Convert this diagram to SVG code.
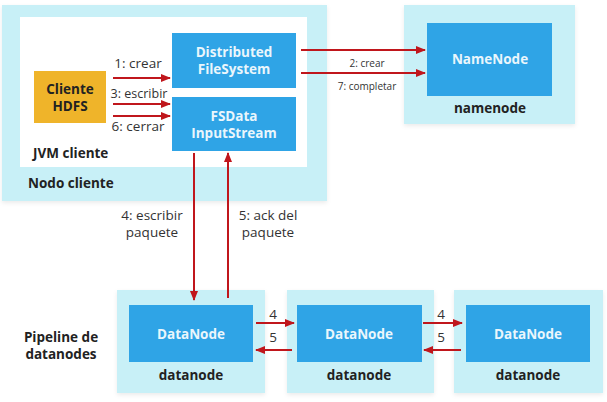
<svg xmlns="http://www.w3.org/2000/svg" width="607" height="402" viewBox="0 0 607 402">
<style>
.outer{fill:#c8f0f7;filter:url(#sh)}
.inner{fill:#2fa4e6}
.wt{font-family:"Open Sans","Noto Sans",sans-serif;font-weight:bold;font-size:13.5px;fill:#eaf6fc;text-anchor:middle}
.bt{font-family:"Open Sans","Noto Sans",sans-serif;font-weight:bold;font-size:13.5px;fill:#222}
.lt{font-family:"Open Sans","Noto Sans",sans-serif;font-size:13.5px;fill:#333;text-anchor:middle}
.st{font-family:"Open Sans","Noto Sans",sans-serif;font-size:10px;fill:#333;text-anchor:middle}
.ln{stroke:#c0161c;stroke-width:2;fill:none;marker-end:url(#ah)}
</style>
<defs>
<marker id="ah" viewBox="0 0 10 10" refX="9" refY="5" markerWidth="5" markerHeight="5" orient="auto" markerUnits="strokeWidth">
<path d="M0,1 L10,5 L0,9 z" fill="#c0161c"/>
</marker>
<filter id="sh" x="-5%" y="-5%" width="110%" height="115%">
<feDropShadow dx="0" dy="2" stdDeviation="2" flood-color="#000" flood-opacity="0.08"/>
</filter>
</defs>
<rect width="607" height="402" fill="#ffffff"/>
<g id="nodo-cliente">
<rect class="outer" x="2" y="5" width="325" height="196"/>
<text class="bt" x="28" y="188">Nodo cliente</text>
</g>
<g id="jvm-cliente">
<rect x="20" y="17" width="287" height="150" fill="#ffffff"/>
<text class="bt" x="33" y="158">JVM cliente</text>
</g>
<g id="cliente-hdfs">
<rect x="34" y="71" width="72" height="52" fill="#efb42a"/>
<text class="bt" x="70" y="93.5" text-anchor="middle">Cliente</text>
<text class="bt" x="70" y="110.5" text-anchor="middle">HDFS</text>
</g>
<g id="distributed-fs">
<rect class="inner" x="172" y="33" width="124" height="55"/>
<text class="wt" x="234" y="56.5">Distributed</text>
<text class="wt" x="234" y="73.5">FileSystem</text>
</g>
<g id="fsdata">
<rect class="inner" x="172" y="97" width="124" height="54"/>
<text class="wt" x="234" y="120.5">FSData</text>
<text class="wt" x="234" y="137.5">InputStream</text>
</g>
<g id="namenode">
<rect class="outer" x="404" y="5" width="171" height="119"/>
<rect class="inner" x="427" y="23" width="125" height="73"/>
<text class="wt" x="490" y="64">NameNode</text>
<text class="bt" x="490" y="113" text-anchor="middle">namenode</text>
</g>
<g id="datanode1">
<rect class="outer" x="117" y="290" width="148" height="103"/>
<rect class="inner" x="129" y="305" width="124" height="57"/>
<text class="wt" x="191" y="339">DataNode</text>
<text class="bt" x="191" y="380" text-anchor="middle">datanode</text>
</g>
<g id="datanode2">
<rect class="outer" x="287" y="290" width="147" height="103"/>
<rect class="inner" x="297" y="305" width="125" height="57"/>
<text class="wt" x="359" y="339">DataNode</text>
<text class="bt" x="359" y="380" text-anchor="middle">datanode</text>
</g>
<g id="datanode3">
<rect class="outer" x="454" y="290" width="149" height="103"/>
<rect class="inner" x="466" y="305" width="124" height="57"/>
<text class="wt" x="528" y="339">DataNode</text>
<text class="bt" x="528" y="380" text-anchor="middle">datanode</text>
</g>
<g id="pipeline-label">
<text class="bt" x="61" y="341.5" text-anchor="middle">Pipeline de</text>
<text class="bt" x="61" y="358.5" text-anchor="middle">datanodes</text>
</g>
<g id="connectors">
<line class="ln" x1="113" y1="78" x2="170" y2="78"/>
<line class="ln" x1="113" y1="104" x2="170" y2="104"/>
<line class="ln" x1="113" y1="116" x2="170" y2="116"/>
<line class="ln" x1="301" y1="50" x2="425" y2="50"/>
<line class="ln" x1="301" y1="73" x2="425" y2="73"/>
<line class="ln" x1="194" y1="153" x2="194" y2="300"/>
<line class="ln" x1="228" y1="298" x2="228" y2="153"/>
<line class="ln" x1="256" y1="323" x2="294" y2="323"/>
<line class="ln" x1="292" y1="350" x2="256" y2="350"/>
<line class="ln" x1="423" y1="323" x2="462" y2="323"/>
<line class="ln" x1="461" y1="350" x2="424" y2="350"/>
<text class="lt" x="138" y="68">1: crear</text>
<text class="lt" x="139" y="98" style="font-size:12.5px">3: escribir</text>
<text class="lt" x="138" y="131">6: cerrar</text>
<text class="st" x="367" y="66.5">2: crear</text>
<text class="st" x="367" y="90">7: completar</text>
<text class="lt" x="152" y="220">4: escribir</text>
<text class="lt" x="152" y="237">paquete</text>
<text class="lt" x="268" y="220">5: ack del</text>
<text class="lt" x="268" y="237">paquete</text>
<text class="lt" x="273" y="319">4</text>
<text class="lt" x="273" y="342">5</text>
<text class="lt" x="441" y="319">4</text>
<text class="lt" x="441" y="342">5</text>
</g>
</svg>
